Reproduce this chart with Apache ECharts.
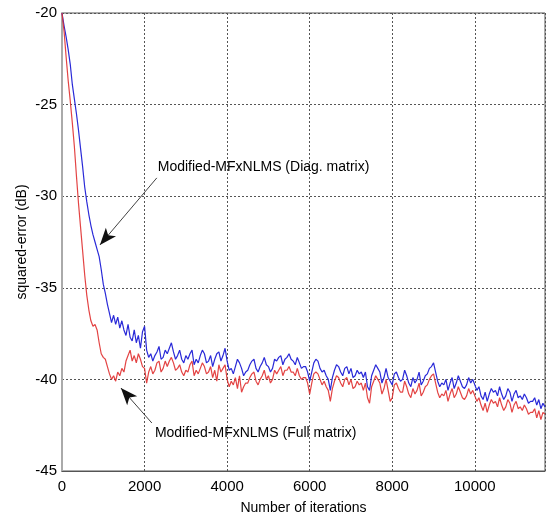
<!DOCTYPE html>
<html><head><meta charset="utf-8">
<script src="https://cdn.jsdelivr.net/npm/echarts@6/dist/echarts.min.js"></script>
<style>html,body{margin:0;padding:0;background:#fff}#c{width:546px;height:521px}</style>
</head><body><div id="c"></div>
<script>
// sample step of the iteration axis (one value every STEP iterations)
const STEP = 50;
const xTicks = [0, 2000, 4000, 6000, 8000, 10000];
const yTicks = [-45, -40, -35, -30, -25, -20];

const diagValues = [
 -20.0,-20.7,-21.3,-22.0,-22.8,-23.9,-24.7,-25.5,-26.4,-27.4,
 -28.4,-29.5,-30.3,-31.0,-31.6,-32.1,-32.5,-32.9,-33.3,-34.0,
 -34.8,-35.3,-35.9,-36.4,-36.9,-36.5,-37.0,-36.6,-37.2,-36.8,
 -37.3,-37.6,-37.0,-37.7,-37.9,-37.3,-38.0,-37.6,-38.3,-37.4,
 -37.1,-38.4,-38.8,-38.6,-39.0,-38.7,-38.5,-38.2,-38.9,-38.8,
 -38.4,-38.6,-38.3,-38.0,-38.5,-38.9,-38.7,-38.4,-38.9,-39.1,
 -38.7,-38.9,-38.6,-38.4,-39.2,-38.9,-39.1,-38.7,-38.4,-38.6,
 -39.1,-39.0,-38.7,-39.3,-38.9,-38.6,-38.5,-39.0,-38.7,-38.3,
 -39.0,-39.5,-39.4,-39.7,-39.3,-38.9,-39.1,-39.4,-39.8,-39.6,
 -39.5,-39.2,-39.0,-38.9,-39.4,-39.6,-39.3,-39.1,-38.8,-39.2,
 -39.3,-39.6,-39.4,-38.9,-39.0,-38.8,-38.7,-39.2,-38.9,-38.8,
 -38.6,-38.9,-39.0,-39.2,-38.8,-39.1,-39.4,-39.3,-39.3,-39.6,
 -40.1,-39.6,-39.1,-38.9,-39.0,-39.4,-39.6,-39.5,-39.8,-40.0,
 -40.6,-39.9,-39.5,-39.2,-39.3,-39.6,-39.8,-39.4,-39.3,-39.7,
 -39.4,-39.9,-39.8,-39.5,-39.7,-39.6,-39.9,-39.6,-40.4,-40.6,
 -39.8,-39.5,-39.2,-39.4,-39.6,-40.2,-39.9,-39.4,-39.9,-40.1,
 -40.3,-39.7,-39.6,-39.9,-40.1,-40.0,-39.5,-39.8,-40.2,-40.4,
 -39.9,-40.2,-40.0,-39.6,-40.3,-40.1,-39.8,-39.7,-39.4,-39.3,
 -39.1,-39.6,-40.1,-40.4,-40.2,-40.3,-40.0,-40.6,-40.2,-39.9,
 -40.5,-40.2,-39.8,-40.1,-40.4,-40.5,-40.3,-39.9,-40.2,-40.0,
 -40.3,-40.6,-40.4,-40.9,-41.1,-40.7,-41.2,-40.8,-40.5,-40.7,
 -40.6,-40.9,-40.4,-40.8,-41.1,-40.9,-40.5,-40.7,-41.2,-40.8,
 -40.6,-41.0,-40.9,-41.1,-40.8,-41.0,-41.3,-41.2,-41.2,-41.0,
 -41.4,-41.1,-41.6,-41.3,-41.5
];

const fullValues = [
 -20.0,-21.0,-22.4,-23.7,-24.8,-26.0,-27.3,-28.9,-30.4,-31.7,
 -33.0,-34.3,-35.4,-36.2,-36.8,-37.1,-37.0,-37.3,-38.0,-38.6,
 -38.8,-38.9,-39.3,-39.7,-40.0,-39.8,-40.1,-39.6,-39.8,-39.4,
 -39.6,-39.0,-38.7,-38.4,-39.0,-38.7,-39.1,-38.6,-38.9,-39.3,
 -39.4,-40.2,-39.6,-39.3,-39.7,-39.5,-39.1,-39.0,-39.6,-39.4,
 -39.0,-39.3,-39.0,-38.8,-39.1,-39.5,-39.4,-39.2,-39.6,-39.8,
 -39.5,-39.6,-39.2,-39.0,-39.8,-39.5,-39.7,-39.4,-39.1,-39.3,
 -39.7,-39.6,-39.3,-39.9,-39.5,-40.1,-39.2,-39.6,-39.4,-39.2,
 -40.0,-40.4,-40.1,-40.3,-39.9,-40.5,-39.8,-40.7,-40.4,-40.2,
 -40.2,-39.9,-39.7,-39.6,-40.1,-40.3,-40.0,-39.8,-39.5,-40.0,
 -39.8,-40.2,-40.0,-39.5,-39.7,-39.5,-39.3,-39.8,-39.5,-39.5,
 -39.3,-39.6,-39.6,-39.8,-39.4,-39.8,-40.0,-39.9,-39.9,-40.2,
 -40.8,-40.2,-39.7,-39.6,-39.7,-40.0,-40.3,-40.1,-40.4,-40.6,
 -41.2,-40.5,-40.1,-39.8,-39.9,-40.2,-40.4,-40.0,-39.9,-40.3,
 -40.0,-40.5,-40.4,-40.1,-40.3,-40.2,-40.6,-40.2,-41.0,-41.3,
 -40.4,-40.1,-39.8,-40.0,-40.2,-40.8,-40.5,-40.0,-40.6,-41.2,
 -41.0,-40.3,-40.2,-40.5,-40.7,-40.7,-40.1,-40.4,-40.8,-41.0,
 -40.5,-40.8,-40.6,-40.2,-40.9,-40.7,-40.4,-40.3,-40.0,-39.8,
 -39.7,-40.2,-40.7,-41.0,-40.8,-40.9,-40.6,-41.2,-40.8,-40.5,
 -41.0,-40.8,-40.4,-40.7,-41.0,-41.1,-40.9,-40.5,-40.8,-40.6,
 -40.9,-41.2,-41.0,-41.4,-41.7,-41.3,-41.8,-41.4,-41.1,-41.3,
 -41.2,-41.5,-41.0,-41.4,-41.7,-41.5,-41.1,-41.3,-41.8,-41.4,
 -41.2,-41.6,-41.5,-41.7,-41.4,-41.6,-41.9,-41.8,-41.8,-41.6,
 -42.1,-41.7,-42.2,-41.8,-41.9
];

const labelDiag = 'Modified-MFxNLMS (Diag. matrix)';
const labelFull = 'Modified-MFxNLMS (Full matrix)';
// annotation anchors in data coordinates [iteration, dB]
const annDiag = { text: [2320, -28.4], from: [2297, -29.0], to: [919, -32.66] };
const annFull = { text: [2250, -42.93], from: [2177, -42.38], to: [1427, -40.47] };

const toPairs = vals => vals.map((v, i) => [i * STEP, v]);
const FONT = '"Liberation Sans", Arial, sans-serif';

const chart = echarts.init(document.getElementById('c'), null, { renderer: 'canvas' });
const arrowLine = a => ({
  silent: true, symbol: ['none', 'arrow'], symbolSize: [10, 17],
  label: { show: false },
  lineStyle: { color: '#111', width: 0.8, type: 'solid' },
  emphasis: { disabled: true },
  data: [[{ coord: a.from }, { coord: a.to }]]
});
chart.setOption({
  animation: false,
  grid: { left: 62, right: 1, top: 13, bottom: 50, show: true, borderColor: '#555', borderWidth: 1 },
  xAxis: {
    type: 'value', min: 0, max: 11700, interval: 2000,
    name: 'Number of iterations', nameLocation: 'middle', nameGap: 30,
    nameTextStyle: { fontFamily: FONT, fontSize: 14, color: '#000' },
    axisLine: { show: true, lineStyle: { color: '#555', width: 1 } },
    axisTick: { show: false },
    axisLabel: { fontFamily: FONT, fontSize: 15, color: '#000', margin: 8, showMaxLabel: false,
      formatter: v => xTicks.includes(v) ? String(v) : '' },
    splitLine: { show: true, lineStyle: { color: '#555', type: [2, 2], width: 1 } }
  },
  yAxis: {
    type: 'value', min: -45, max: -20, interval: 5,
    name: 'squared-error (dB)', nameLocation: 'middle', nameGap: 33, nameRotate: 90,
    nameMoveOverlap: false,
    nameTextStyle: { fontFamily: FONT, fontSize: 14, color: '#000' },
    axisLine: { show: true, onZero: false, lineStyle: { color: '#aaa', width: 2 } },
    axisTick: { show: false },
    axisLabel: { fontFamily: FONT, fontSize: 15, color: '#000', margin: 5,
      formatter: v => yTicks.includes(v) ? String(v) : '' },
    splitLine: { show: true, lineStyle: { color: '#555', type: [2, 2], width: 1 } }
  },
  series: [
    { name: 'Diag', type: 'line', data: toPairs(diagValues), showSymbol: false,
      lineStyle: { color: '#2a2ad8', width: 1.2 }, itemStyle: { color: '#2a2ad8' },
      markLine: arrowLine(annDiag) },
    { name: 'Full', type: 'line', data: toPairs(fullValues), showSymbol: false,
      lineStyle: { color: '#e03030', width: 1.2, opacity: 0.9 }, itemStyle: { color: '#e03030' },
      markLine: arrowLine(annFull) }
  ]
});
const p1 = chart.convertToPixel({ gridIndex: 0 }, annDiag.text);
const p2 = chart.convertToPixel({ gridIndex: 0 }, annFull.text);
chart.setOption({
  graphic: [
    { type: 'text', x: p1[0], y: p1[1], style: { text: labelDiag, fill: '#000', font: '14px ' + FONT, textVerticalAlign: 'middle' } },
    { type: 'text', x: p2[0], y: p2[1], style: { text: labelFull, fill: '#000', font: '14px ' + FONT, textVerticalAlign: 'middle' } }
  ]
});
</script></body></html>
